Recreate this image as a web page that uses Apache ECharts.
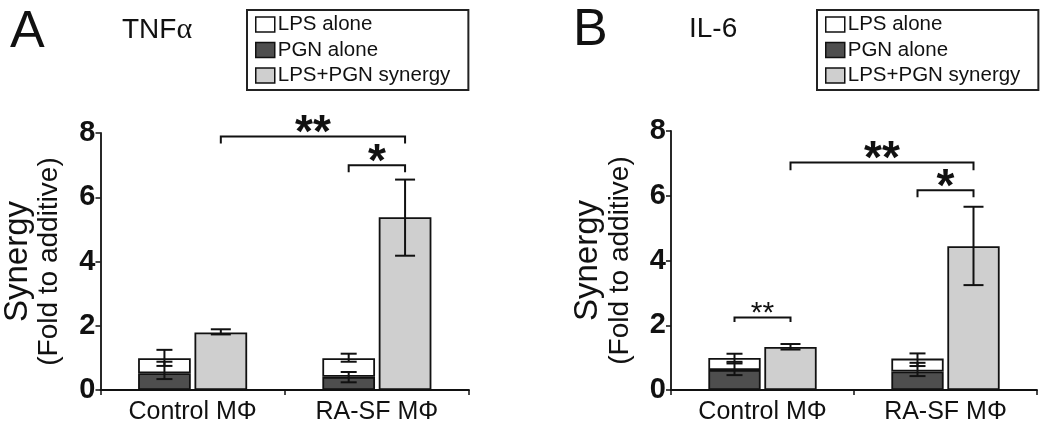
<!DOCTYPE html>
<html><head><meta charset="utf-8">
<script src="https://cdn.jsdelivr.net/npm/echarts@6/dist/echarts.min.js"></script>
<style>html,body{margin:0;padding:0;background:#fff}#c{width:1050px;height:434px}</style>
</head><body><div id="c"></div>
<script>
// ---- data ----
const categories = ['Control M\u03A6', 'RA-SF M\u03A6'];
const seriesNames = ['LPS alone', 'PGN alone', 'LPS+PGN synergy'];
const yTicks = [0, 2, 4, 6, 8];

// Panel A (TNFα)
const A_pgn = [0.52, 0.41];
const A_lps = [0.47, 0.58];          // white segment stacked on PGN
const A_syn = [1.79, 5.38];
const A_lpsErr = [[0.75, 1.25], [0.88, 1.13]];
const A_pgnErr = [[0.34, 0.88], [0.24, 0.56]];
const A_synErr = [[1.73, 1.89], [4.18, 6.55]];
// brackets: [cat1, slot1, cat2, slot2, y, drop]
const A_brackets = [[0, 1, 1, 1, 7.89, 0.22], [1, 0, 1, 1, 7.0, 0.22]];
const A_bracketLabels = ['**', '*'];

// Panel B (IL-6)
const B_pgn = [0.62, 0.57];
const B_lps = [0.37, 0.40];
const B_syn = [1.33, 4.44];
const B_lpsErr = [[0.82, 1.12], [0.74, 1.13]];
const B_pgnErr = [[0.46, 0.87], [0.43, 0.84]];
const B_synErr = [[1.25, 1.42], [3.24, 5.66]];
const B_brackets = [[0, 1, 1, 1, 7.03, 0.24], [1, 0, 1, 1, 6.17, 0.22], [0, 0, 0, 1, 2.24, 0.14]];
const B_bracketLabels = ['**', '*', '**'];

// ---- styles ----
const BAR_W = 0.286, BAR_GAP = 0.07;
const cLight = '#cfcfcf', cDark = '#4e4e4e';
const FONT = "'Liberation Sans', Arial, sans-serif";

function errData(lpsE, pgnE, synE) {
  const out = [];
  for (let i = 0; i < categories.length; i++) {
    out.push([i, lpsE[i][0], lpsE[i][1], 0]);
    out.push([i, pgnE[i][0], pgnE[i][1], 0]);
    out.push([i, synE[i][0], synE[i][1], 1]);
  }
  return out;
}
function slotOffset(api, slot) {
  const bw = api.size([1, 0])[0];
  return bw * BAR_W * (1 + BAR_GAP) / 2 * (slot === 0 ? -1 : 1);
}
function renderErr(params, api) {
  const cat = api.value(0), lo = api.value(1), hi = api.value(2), slot = api.value(3);
  const off = slotOffset(api, slot);
  const p1 = api.coord([cat, lo]), p2 = api.coord([cat, hi]);
  const x = p1[0] + off;
  const cw = slot === 0 ? 8 : 10;
  const st = { stroke: '#111', lineWidth: 2 };
  return { type: 'group', children: [
    { type: 'line', shape: { x1: x, y1: p1[1], x2: x, y2: p2[1] }, style: st },
    { type: 'line', shape: { x1: x - cw, y1: p1[1], x2: x + cw, y2: p1[1] }, style: st },
    { type: 'line', shape: { x1: x - cw, y1: p2[1], x2: x + cw, y2: p2[1] }, style: st }
  ]};
}
function makeRenderBracket(labels, small) {
  return function (params, api) {
    const c1 = api.value(0), s1 = api.value(1), c2 = api.value(2), s2 = api.value(3), y = api.value(4), d = api.value(5);
    const pa = api.coord([c1, y]), pb = api.coord([c2, y]);
    const pad = api.coord([c1, y - d]);
    const xa = pa[0] + slotOffset(api, s1), xb = pb[0] + slotOffset(api, s2);
    const isSmall = small && params.dataIndex === 2;
    const fs = isSmall ? 30 : 46;
    return { type: 'group', children: [
      { type: 'polyline', shape: { points: [[xa, pad[1]], [xa, pa[1]], [xb, pa[1]], [xb, pad[1]]] },
        style: { stroke: '#111', lineWidth: 2, fill: null } },
      { type: 'text', style: { text: labels[params.dataIndex], x: (xa + xb) / 2, y: pa[1] + (isSmall ? -4 : -2),
        textAlign: 'center', textVerticalAlign: 'middle', fontSize: fs, fontWeight: isSmall ? 'normal' : 'bold',
        fontFamily: FONT, fill: '#111' } }
    ]};
  };
}
const barBorder = { borderColor: '#111', borderWidth: 1.8 };

function panelSeries(idx, pgn, lps, syn, lpsE, pgnE, synE, br, brLabels, small) {
  return [
    { name: 'PGN alone', type: 'bar', xAxisIndex: idx, yAxisIndex: idx, stack: 's' + idx, data: pgn,
      barWidth: (BAR_W * 100) + '%', barGap: (BAR_GAP * 100) + '%', itemStyle: Object.assign({ color: cDark }, barBorder) },
    { name: 'LPS alone', type: 'bar', xAxisIndex: idx, yAxisIndex: idx, stack: 's' + idx, data: lps,
      barWidth: (BAR_W * 100) + '%', barGap: (BAR_GAP * 100) + '%', itemStyle: Object.assign({ color: '#ffffff' }, barBorder) },
    { name: 'LPS+PGN synergy', type: 'bar', xAxisIndex: idx, yAxisIndex: idx, data: syn,
      barWidth: (BAR_W * 100) + '%', barGap: (BAR_GAP * 100) + '%', itemStyle: Object.assign({ color: cLight }, barBorder) },
    { type: 'custom', xAxisIndex: idx, yAxisIndex: idx, renderItem: renderErr, data: errData(lpsE, pgnE, synE), z: 10, silent: true },
    { type: 'custom', xAxisIndex: idx, yAxisIndex: idx, renderItem: makeRenderBracket(brLabels, small), data: br, z: 10, silent: true, clip: false }
  ];
}

function xAxis(idx) {
  return { type: 'category', gridIndex: idx, data: categories, boundaryGap: true,
    axisLine: { lineStyle: { color: '#111', width: 1.8 } },
    axisTick: { show: true, length: 5, lineStyle: { color: '#111', width: 1.5 } },
    axisLabel: { color: '#111', fontSize: 25, fontFamily: FONT, margin: 10 } };
}
function yAxis(idx) {
  return { type: 'value', gridIndex: idx, min: yTicks[0], max: yTicks[yTicks.length - 1], interval: 2,
    splitLine: { show: false },
    axisLine: { show: true, lineStyle: { color: '#111', width: 1.8 } },
    axisTick: { show: true, length: 5, lineStyle: { color: '#111', width: 1.5 } },
    axisLabel: { color: '#111', fontSize: 29, fontWeight: 'bold', fontFamily: FONT, margin: 5 },
    name: '{a|Synergy}\n{b|(Fold to additive)}', nameLocation: 'middle', nameGap: 36, nameRotate: 90,
    nameTextStyle: { rich: {
      a: { fontSize: 33, fontFamily: FONT, color: '#111', lineHeight: 34 },
      b: { fontSize: 28, fontFamily: FONT, color: '#111', lineHeight: 30 } } } };
}
function legend(left) {
  return { left: left, top: 10, orient: 'vertical', data: seriesNames,
    icon: 'rect', itemWidth: 19, itemHeight: 15, itemGap: 4.5,
    padding: [4, 18, 4, 8], borderColor: '#222', borderWidth: 2,
    itemStyle: { borderColor: '#111', borderWidth: 1.5 },
    textStyle: { fontSize: 20.5, fontFamily: FONT, color: '#111', lineHeight: 20, padding: [0, 0, 0, -2] },
    selectedMode: false };
}

const chart = echarts.init(document.getElementById('c'), null, { renderer: 'canvas' });
chart.setOption({
  animation: false,
  backgroundColor: '#fff',
  title: [
    { text: 'A', left: 5, top: 2, textStyle: { fontSize: 52, fontWeight: 'normal', fontFamily: FONT, color: '#111' } },
    { text: 'TNF{g|\u03B1}', left: 117, top: 10, textStyle: { fontSize: 28, fontWeight: 'normal', fontFamily: FONT, color: '#111',
      rich: { g: { fontSize: 30, fontFamily: "'Liberation Serif', serif", color: '#111' } } } },
    { text: 'B', left: 568, top: 0, textStyle: { fontSize: 52, fontWeight: 'normal', fontFamily: FONT, color: '#111' } },
    { text: 'IL-6', left: 684, top: 10, textStyle: { fontSize: 28, fontWeight: 'normal', fontFamily: FONT, color: '#111' } }
  ],
  legend: [legend(247), legend(817)],
  grid: [
    { left: 100, top: 133, width: 369, height: 257 },
    { left: 671, top: 131, width: 366, height: 259 }
  ],
  xAxis: [xAxis(0), xAxis(1)],
  yAxis: [yAxis(0), yAxis(1)],
  series: [].concat(
    panelSeries(0, A_pgn, A_lps, A_syn, A_lpsErr, A_pgnErr, A_synErr, A_brackets, A_bracketLabels, false),
    panelSeries(1, B_pgn, B_lps, B_syn, B_lpsErr, B_pgnErr, B_synErr, B_brackets, B_bracketLabels, true)
  )
});
</script>
</body></html>
